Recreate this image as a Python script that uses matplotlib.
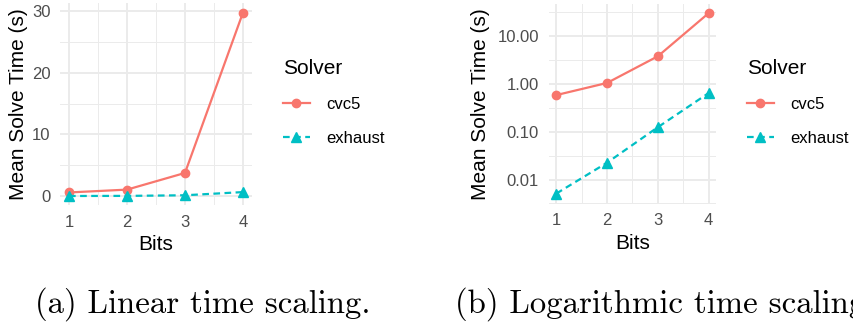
import numpy as np
import matplotlib.pyplot as plt
from matplotlib.lines import Line2D

bits = [1, 2, 3, 4]
cvc5 = [0.58, 1.04, 3.75, 29.8]
exhaust = [0.0051, 0.0225, 0.124, 0.64]
solvers = ["cvc5", "exhaust"]
captions = ["(a) Linear time scaling.", "(b) Logarithmic time scaling."]

red = "#F8766D"
teal = "#00BFC4"
grid_col = "#EBEBEB"
tick_col = "#4D4D4D"

plt.rcParams["font.family"] = ["Liberation Sans", "DejaVu Sans"]

W, H = 854, 326
fig = plt.figure(figsize=(W / 100, H / 100), dpi=100)


def px_axes(x0, y0, x1, y1):
    # pixel box (top-left origin) -> axes
    return fig.add_axes([x0 / W, 1 - y1 / H, (x1 - x0) / W, (y1 - y0) / H])


def style(ax):
    for s in ax.spines.values():
        s.set_visible(False)
    ax.tick_params(which="both", length=0, labelsize=12, labelcolor=tick_col, pad=7)
    ax.grid(True, which="major", color=grid_col, lw=1.4, zorder=0)
    ax.grid(True, which="minor", color=grid_col, lw=0.7, zorder=0)
    ax.set_axisbelow(True)
    ax.set_xlim(0.85, 4.15)
    ax.set_xticks(bits)
    ax.set_xticks([1.5, 2.5, 3.5], minor=True)
    ax.set_xlabel("Bits", fontsize=15, labelpad=4)
    ax.set_ylabel("Mean Solve Time (s)", fontsize=15)


def draw(ax):
    ax.plot(bits, cvc5, color=red, lw=1.6, marker="o", ms=6, zorder=3)
    ax.plot(bits, exhaust, color=teal, lw=1.6, ls=(0, (3, 2)), marker="^", ms=7, zorder=3)


def legend(x0):
    handles = [
        Line2D([], [], color=red, lw=1.6, marker="o", ms=6),
        Line2D([], [], color=teal, lw=1.6, ls=(0, (3, 2)), marker="^", ms=7),
    ]
    fig.legend(handles, solvers, title="Solver", loc="upper left",
               bbox_to_anchor=(x0 / W, 1 - 59 / H), frameon=False,
               fontsize=12, title_fontsize=15, handlelength=1.6,
               labelspacing=1.15, handletextpad=1.0, alignment="left",
               borderaxespad=0, borderpad=0)


# linear panel
ax1 = px_axes(60.3, 3.3, 251.7, 205.2)
style(ax1)
draw(ax1)
ax1.set_ylim(-1.49, 31.3)
ax1.set_yticks([0, 10, 20, 30])
ax1.set_yticks([5, 15, 25], minor=True)
ax1.yaxis.set_label_coords(-0.169, 0.5)
legend(283)

# log panel
ax2 = px_axes(548.7, 4.1, 716.3, 203.5)
style(ax2)
draw(ax2)
ax2.set_yscale("log")
lo, hi = np.log10(min(exhaust)), np.log10(max(cvc5))
pad = (hi - lo) * 0.05
ax2.set_ylim(10 ** (lo - pad), 10 ** (hi + pad))
ax2.set_yticks([0.01, 0.1, 1, 10])
ax2.set_yticklabels(["0.01", "0.10", "1.00", "10.00"])
ax2.set_yticks([10 ** -2.5, 10 ** -1.5, 10 ** -0.5, 10 ** 0.5, 10 ** 1.5], minor=True)
ax2.yaxis.set_minor_formatter(plt.NullFormatter())
ax2.yaxis.set_label_coords(-0.350, 0.5)
legend(747)

fig.text(35 / W, 1 - 313 / H, captions[0], fontfamily="cmr10", fontsize=23.6,
         ha="left", va="baseline")
fig.text(455 / W, 1 - 313 / H, captions[1], fontfamily="cmr10", fontsize=23.6,
         ha="left", va="baseline")

fig.savefig("out.png", dpi=100)
